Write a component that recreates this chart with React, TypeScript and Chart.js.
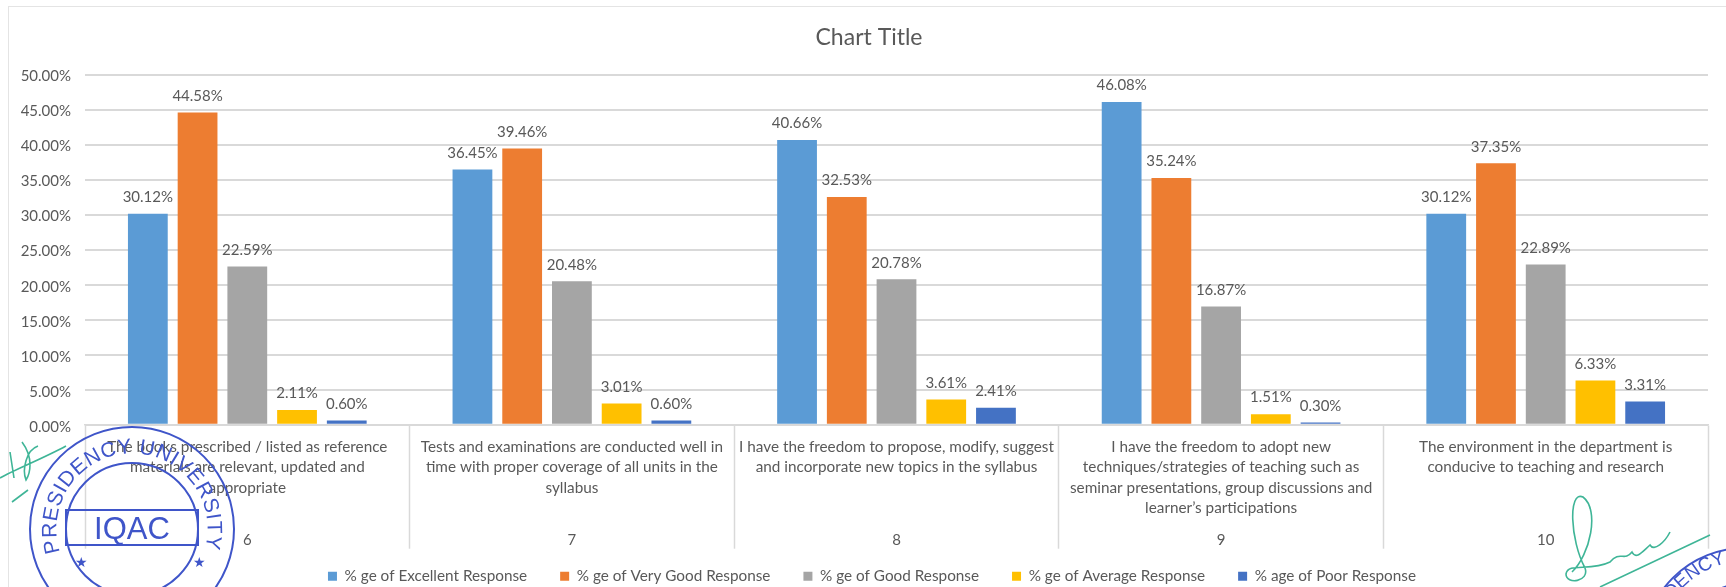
import React, { useEffect, useRef } from "react";
import { Chart, registerables } from "chart.js";

Chart.register(...registerables);

const questions: string[][] = [
  ["The books prescribed / listed as reference", "materials are relevant, updated and", "appropriate"],
  ["Tests and examinations are conducted well in", "time with proper coverage of all units in the", "syllabus"],
  ["I have the freedom to propose, modify, suggest", "and incorporate new topics in the syllabus"],
  ["I have the freedom to adopt new", "techniques/strategies of teaching such as", "seminar presentations, group discussions and", "learner’s participations"],
  ["The environment in the department is", "conducive to teaching and research"],
];
const questionNumbers = ["6", "7", "8", "9", "10"];
const excellent = [30.12, 36.45, 40.66, 46.08, 30.12];
const veryGood = [44.58, 39.46, 32.53, 35.24, 37.35];
const good = [22.59, 20.48, 20.78, 16.87, 22.89];
const average = [2.11, 3.01, 3.61, 1.51, 6.33];
const poor = [0.6, 0.6, 2.41, 0.3, 3.31];
const seriesNames = [
  "% ge of Excellent Response",
  "% ge of Very Good Response",
  "% ge of Good Response",
  "% ge of Average Response",
  "% age of Poor Response",
];
const colours = ["#5B9BD5", "#ED7D31", "#A5A5A5", "#FFC000", "#4472C4"];
const seriesValues = [excellent, veryGood, good, average, poor];

const FONT = "Lato, 'Open Sans', sans-serif";
const TEXT = "#595959";
const GRID = "#D9D9D9";

const valueLabels = {
  id: "valueLabels",
  afterDatasetsDraw(chart: any) {
    const ctx = chart.ctx;
    ctx.save();
    ctx.font = `15px ${FONT}`;
    ctx.fillStyle = TEXT;
    ctx.textAlign = "center";
    ctx.textBaseline = "bottom";
    chart.data.datasets.forEach((ds: any, i: number) => {
      chart.getDatasetMeta(i).data.forEach((bar: any, j: number) => {
        ctx.fillText(ds.data[j].toFixed(2) + "%", bar.x, bar.y - 9);
      });
    });
    ctx.restore();
  },
};

// Nudges the title and legend boxes to the right, as they sit off-centre in the reference.
const nudgeBlocks = {
  id: "nudgeBlocks",
  afterLayout(chart: any) {
    chart.legend.left += 18;
    chart.legend.right += 18;
    chart.titleBlock.left += 15;
    chart.titleBlock.right += 15;
  },
};

function Marks() {
  const blue = "#3F55C9";
  return (
    <svg width={1726} height={587} style={{ position: "absolute", left: 0, top: 0, pointerEvents: "none", filter: "blur(0.5px)" }}>
      <defs>
        <path id="ring1" d="M 60 552 A 75.6 75.6 0 1 1 204 552" />
        <path id="ring2" d="M 1672 600 Q 1695 570 1730 562" />
      </defs>
      <g fill="none" stroke={blue} strokeWidth={2}>
        <circle cx={132} cy={529} r={102} />
        <circle cx={132} cy={529} r={66} />
        <rect x={66} y={510} width={132} height={35} />
        <circle cx={1745} cy={650} r={102} />
        <circle cx={1745} cy={650} r={66} />
      </g>
      <text x={132} y={539} textAnchor="middle" fontFamily="Liberation Sans" fontSize={31} fill={blue}>IQAC</text>
      <text fontFamily="Liberation Sans" fontSize={21} fill={blue}>
        <textPath href="#ring1" textLength={280}>PRESIDENCY UNIVERSITY</textPath>
      </text>
      <text fontFamily="Liberation Sans" fontSize={19} fill={blue}>
        <textPath href="#ring2">DENCY</textPath>
      </text>
      <text x={75} y={567} fontFamily="Liberation Sans" fontSize={14} fill={blue}>★</text>
      <text x={193} y={567} fontFamily="Liberation Sans" fontSize={14} fill={blue}>★</text>
      <g fill="none" stroke="#3FB597" strokeWidth={1.6}>
        <path d="M 0 478 C 14 470 44 458 66 446 M 10 452 L 14 478 M 22 442 C 34 458 30 474 26 480 C 22 470 26 450 38 446 M 12 502 L 28 490" />
        <path d="M 1572 572 C 1590 555 1600 510 1583 497 C 1568 490 1570 540 1585 568 C 1590 582 1566 585 1566 574 C 1568 562 1590 572 1610 562 C 1620 550 1624 562 1632 552 C 1636 560 1642 552 1650 545 C 1654 552 1665 542 1670 532 M 1600 587 L 1710 535" />
      </g>
    </svg>
  );
}

export default function App() {
  const ref = useRef<HTMLCanvasElement>(null);
  useEffect(() => {
    document.body.style.margin = "0";
    document.body.style.background = "#fff";
    const chart = new Chart(ref.current!, {
      type: "bar",
      data: {
        labels: questions as any,
        datasets: seriesNames.map((label, i) => ({
          label,
          data: seriesValues[i],
          backgroundColor: colours[i],
          borderWidth: 0,
          xAxisID: "x",
          barPercentage: 0.8,
          categoryPercentage: 0.766,
        })),
      },
      options: {
        animation: false,
        responsive: false,
        layout: { padding: { left: 0, right: 18, top: 0, bottom: 0 } },
        scales: {
          y: {
            min: 0,
            max: 50,
            afterFit: (s: any) => { s.width = 85; },
            ticks: {
              stepSize: 5,
              padding: 14,
              labelOffset: 2,
              color: TEXT,
              font: { family: FONT, size: 15 },
              callback: (v: any) => Number(v).toFixed(2) + "%",
            },
            grid: { color: GRID, lineWidth: 2, drawTicks: false },
            border: { display: false },
          },
          x: {
            offset: true,
            weight: 1,
            afterFit: (s: any) => { s.height = 111; },
            ticks: {
              autoSkip: false,
              maxRotation: 0,
              minRotation: 0,
              padding: -112,
              color: TEXT,
              font: { family: FONT, size: 15.3, lineHeight: 1.34 },
            },
            grid: { offset: true, drawOnChartArea: false, drawTicks: true, tickLength: 124, tickColor: GRID, tickWidth: 1.5 },
            border: { color: GRID, width: 1.5 },
          },
          x2: {
            type: "category",
            position: "bottom",
            labels: questionNumbers,
            offset: true,
            weight: 2,
            afterFit: (s: any) => { s.height = 0; },
            ticks: { mirror: true, autoSkip: false, maxRotation: 0, padding: -13, color: TEXT, font: { family: FONT, size: 15 } },
            grid: { display: false, drawTicks: false },
            border: { display: false },
          },
        } as any,
        plugins: {
          title: {
            display: true,
            text: "Chart Title",
            color: TEXT,
            font: { family: FONT, size: 23, weight: "normal" },
            padding: { top: 24, bottom: 23 },
          },
          tooltip: { enabled: false },
          legend: {
            position: "bottom",
            labels: {
              boxWidth: 9,
              boxHeight: 9,
              padding: 33,
              color: TEXT,
              font: { family: FONT, size: 15.3 },
            },
          },
        },
      },
      plugins: [valueLabels, nudgeBlocks],
    });
    return () => chart.destroy();
  }, []);
  return (
    <div style={{ position: "fixed", left: 0, top: 0, width: 1726, height: 587, overflow: "hidden", background: "#fff" }}>
      <canvas ref={ref} width={1726} height={594} style={{ display: "block", filter: "blur(0.5px)" }} />
      <div style={{ position: "absolute", left: 8, top: 6, width: 1718, height: 600, borderLeft: "1.5px solid #E4E4E4", borderTop: "1.5px solid #E4E4E4", boxSizing: "border-box" }} />
      <Marks />
    </div>
  );
}
